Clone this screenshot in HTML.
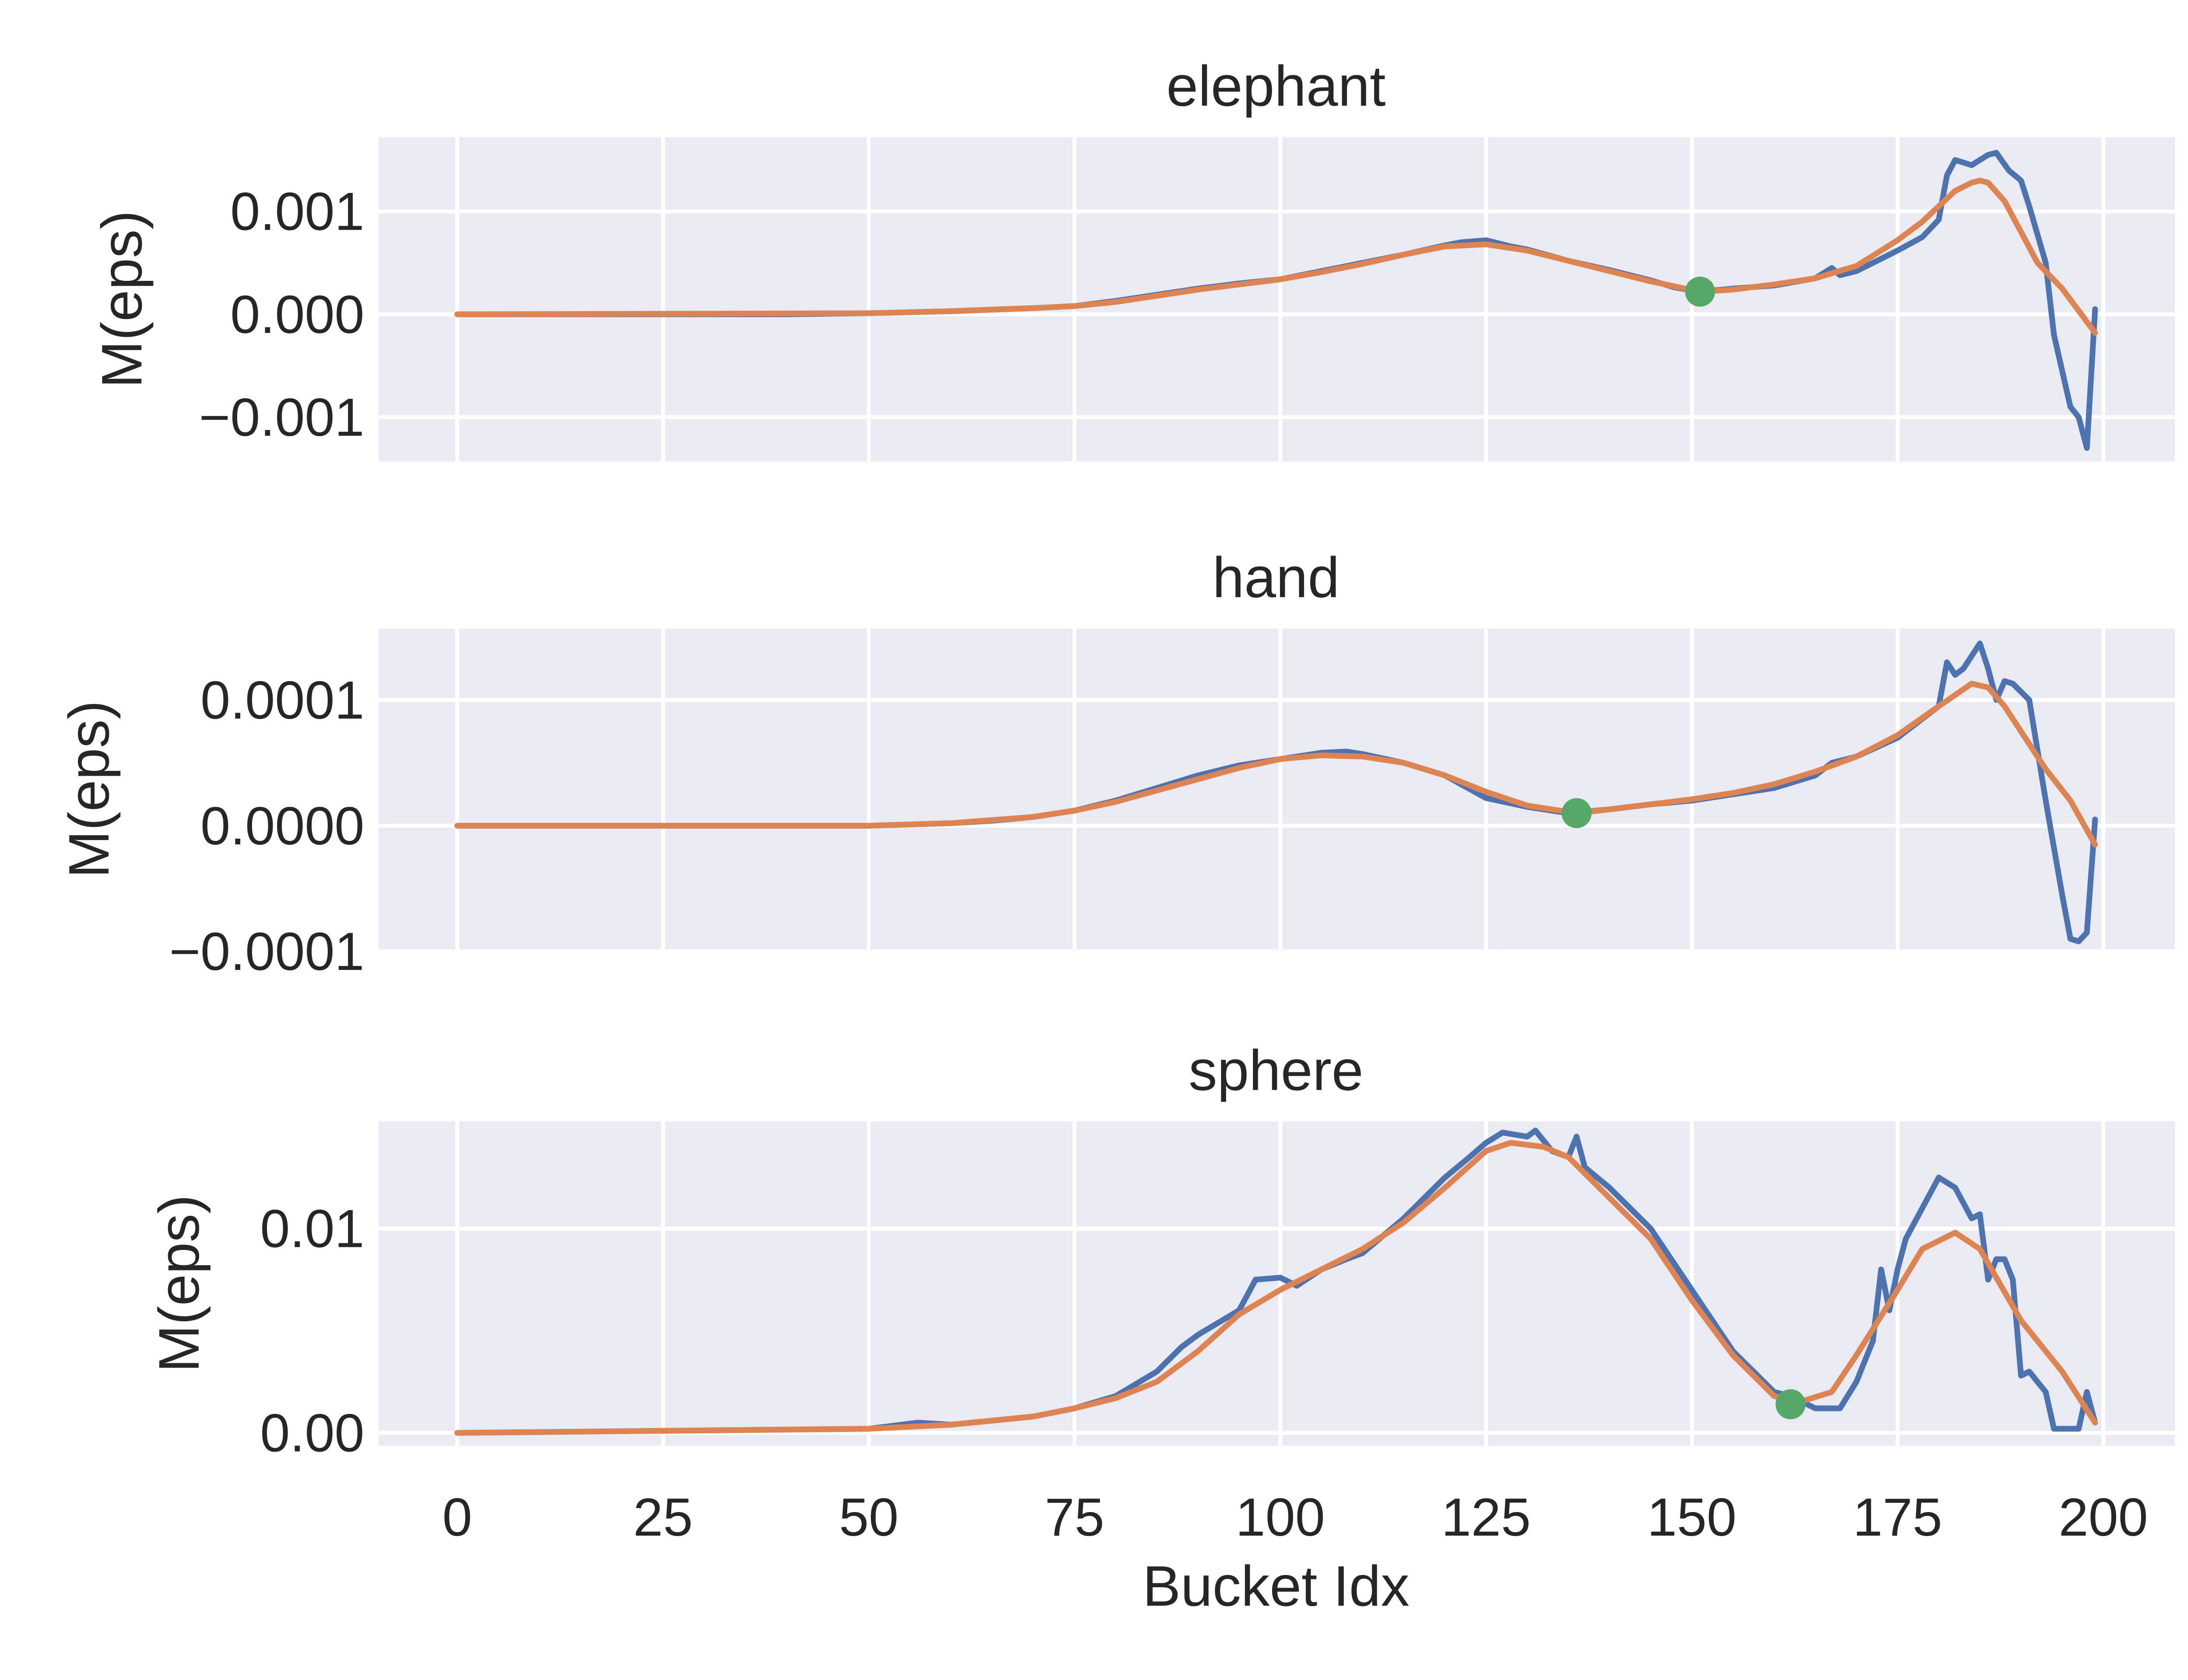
<!DOCTYPE html>
<html><head><meta charset="utf-8"><style>
html,body{margin:0;padding:0;background:#fff}
svg{display:block}
text{font-family:"Liberation Sans",Arial,sans-serif;fill:#262626}
</style></head><body>
<svg id="chart" width="5120" height="3840" viewBox="0 0 1568 1176" xmlns="http://www.w3.org/2000/svg"></svg>
<script>
const xTicks=[0,25,50,75,100,125,150,175,200];
// elephant (units 1e-3)
const eX=[0,40,50,60,70,75,80,85,90,95,100,105,110,115,120,122,125,128,130,135,140,145,148,151,155,160,165,167,168,170,175,178,180,181,182,184,186,187,188.5,190,191,193,194,196,197,198,199];
const eBlue=[0,0,0.01,0.03,0.06,0.08,0.13,0.19,0.25,0.3,0.34,0.42,0.5,0.58,0.67,0.7,0.72,0.66,0.63,0.52,0.43,0.33,0.26,0.22,0.25,0.28,0.35,0.45,0.38,0.42,0.62,0.75,0.92,1.35,1.5,1.45,1.55,1.57,1.4,1.3,1.05,0.5,-0.2,-0.9,-1.0,-1.3,0.05];
const eOX=[0,50,60,70,75,80,85,90,95,100,105,110,115,120,125,130,135,140,145,151,155,160,165,170,175,178,180,182,184,185,186,188,190,192,195,199];
const eOrange=[0,0.01,0.03,0.06,0.08,0.12,0.18,0.24,0.29,0.34,0.41,0.49,0.58,0.66,0.68,0.62,0.52,0.42,0.32,0.22,0.24,0.29,0.35,0.47,0.72,0.9,1.05,1.2,1.28,1.3,1.28,1.1,0.8,0.5,0.25,-0.18];
const eMin=[151,0.22];
// hand (units 1e-4)
const hX=[0,50,55,60,65,70,75,80,85,90,95,100,105,108,110,115,120,125,130,135,140,145,150,155,160,165,167,170,175,180,181,182,183,184,185,186,187,188,189,191,192,193,195,196,197,198,199];
const hBlue=[0,0,0.01,0.02,0.04,0.07,0.12,0.2,0.3,0.4,0.48,0.53,0.58,0.59,0.57,0.5,0.4,0.22,0.15,0.1,0.13,0.17,0.2,0.25,0.3,0.4,0.5,0.55,0.7,0.95,1.3,1.2,1.25,1.35,1.45,1.25,1.0,1.15,1.13,1.0,0.6,0.2,-0.55,-0.9,-0.92,-0.85,0.05];
const hOX=[0,50,60,70,75,80,85,90,95,100,105,110,115,120,125,130,136,140,145,150,155,160,165,170,175,180,184,186,188,190,193,196,199];
const hOrange=[0,0,0.02,0.07,0.12,0.19,0.28,0.37,0.46,0.53,0.56,0.55,0.5,0.4,0.27,0.16,0.1,0.13,0.17,0.21,0.26,0.33,0.43,0.55,0.72,0.95,1.13,1.1,0.95,0.75,0.45,0.2,-0.15];
const hMin=[136,0.1];
// sphere (units 1e-2)
const sX=[0,50,56,60,65,70,75,80,85,88,90,95,97,100,102,105,108,110,115,120,123,125,127,130,131,133,135,136,137,140,145,150,155,160,162,165,168,170,172,173,174,175,176,178,180,182,184,185,186,187,188,189,190,191,192,193,194,197,198,199];
const sBlue=[0,0.02,0.05,0.04,0.06,0.08,0.12,0.18,0.3,0.42,0.48,0.6,0.75,0.76,0.72,0.8,0.85,0.88,1.05,1.25,1.35,1.42,1.47,1.45,1.48,1.38,1.35,1.45,1.3,1.2,1.0,0.7,0.4,0.2,0.18,0.12,0.12,0.25,0.45,0.8,0.6,0.8,0.95,1.1,1.25,1.2,1.05,1.07,0.75,0.85,0.85,0.75,0.28,0.3,0.25,0.2,0.02,0.02,0.2,0.05];
const sOX=[0,50,60,70,75,80,85,90,95,100,105,110,115,120,125,128,132,135,140,145,150,155,160,163,167,170,175,178,182,185,190,195,199];
const sOrange=[0,0.02,0.04,0.08,0.12,0.17,0.25,0.4,0.58,0.7,0.8,0.9,1.03,1.2,1.38,1.42,1.4,1.35,1.15,0.95,0.65,0.38,0.18,0.15,0.2,0.38,0.7,0.9,0.98,0.9,0.55,0.3,0.05];
const sMin=[162,0.14];

const panels=[
 {name:'elephant',top:96,bot:323,zeroY:220,unit:72,xs:eX,blue:eBlue,oxs:eOX,orange:eOrange,min:eMin,ticks:[1,0,-1],labels:['0.001','0.000','\u22120.001'],ylabX:85},
 {name:'hand',top:440,bot:665,zeroY:578,unit:88,xs:hX,blue:hBlue,oxs:hOX,orange:hOrange,min:hMin,ticks:[1,0,-1],labels:['0.0001','0.0000','\u22120.0001'],ylabX:62},
 {name:'sphere',top:785,bot:1012,zeroY:1003,unit:143,xs:sX,blue:sBlue,oxs:sOX,orange:sOrange,min:sMin,ticks:[1,0],labels:['0.01','0.00'],ylabX:125}
];
const L=265,R=1522;
const xs=v=>320+v*(1472-320)/200;
const svg=document.getElementById('chart');
const NS='http://www.w3.org/2000/svg';
function mk(tag,attrs,parent){const e=document.createElementNS(NS,tag);for(const k in attrs)e.setAttribute(k,attrs[k]);(parent||svg).appendChild(e);return e;}
panels.forEach((p,pi)=>{
 const g=mk('g',{});
 
 
 const ys=v=>p.zeroY-v*p.unit;
 const bg=mk('rect',{x:L,y:p.top,width:R-L,height:p.bot-p.top,fill:'#eaeaf2'},g);
 
 
 xTicks.forEach(t=>{const l=mk('line',{x1:xs(t),x2:xs(t),y1:p.top,y2:p.bot,stroke:'#fff','stroke-width':2.8},g);
  
  });
 p.ticks.forEach((t,i)=>{const y=ys(t);
  const l=mk('line',{x1:L,x2:R,y1:y,y2:y,stroke:'#fff','stroke-width':2.8},g);
  
  
  const tx=mk('text',{x:L-10,y:y+13,'text-anchor':'end','font-size':37.5},g);tx.textContent=p.labels[i];
  
  });
 const ttl=mk('text',{x:893,y:p.top-22,'text-anchor':'middle','font-size':40},g);ttl.textContent=p.name;
 
 
 const cy=(p.top+p.bot)/2;
 const yl=mk('text',{x:p.ylabX,y:cy,'text-anchor':'middle','font-size':40,transform:`rotate(-90 ${p.ylabX} ${cy})`,dy:14},g);yl.textContent='M(eps)';
 
 
 const bl=mk('polyline',{points:p.xs.map((x,i)=>xs(x)+','+ys(p.blue[i])).join(' '),fill:'none',stroke:'#4c72b0','stroke-width':4,'stroke-linejoin':'round','stroke-linecap':'round'},g);
 
 
 const ol=mk('polyline',{points:p.oxs.map((x,i)=>xs(x)+','+ys(p.orange[i])).join(' '),fill:'none',stroke:'#dd8452','stroke-width':4,'stroke-linejoin':'round','stroke-linecap':'round'},g);
 
 
 const c=mk('circle',{cx:xs(p.min[0]),cy:ys(p.min[1]),r:10.5,fill:'#55a868'},g);
 
 
 if(pi===2){xTicks.forEach(t=>{const tx=mk('text',{x:xs(t),y:1075,'text-anchor':'middle','font-size':37.5},g);tx.textContent=t;
  
  });
  const xl=mk('text',{x:893,y:1124,'text-anchor':'middle','font-size':40},g);xl.textContent='Bucket Idx';
  
  }
});
</script>
</body></html>
